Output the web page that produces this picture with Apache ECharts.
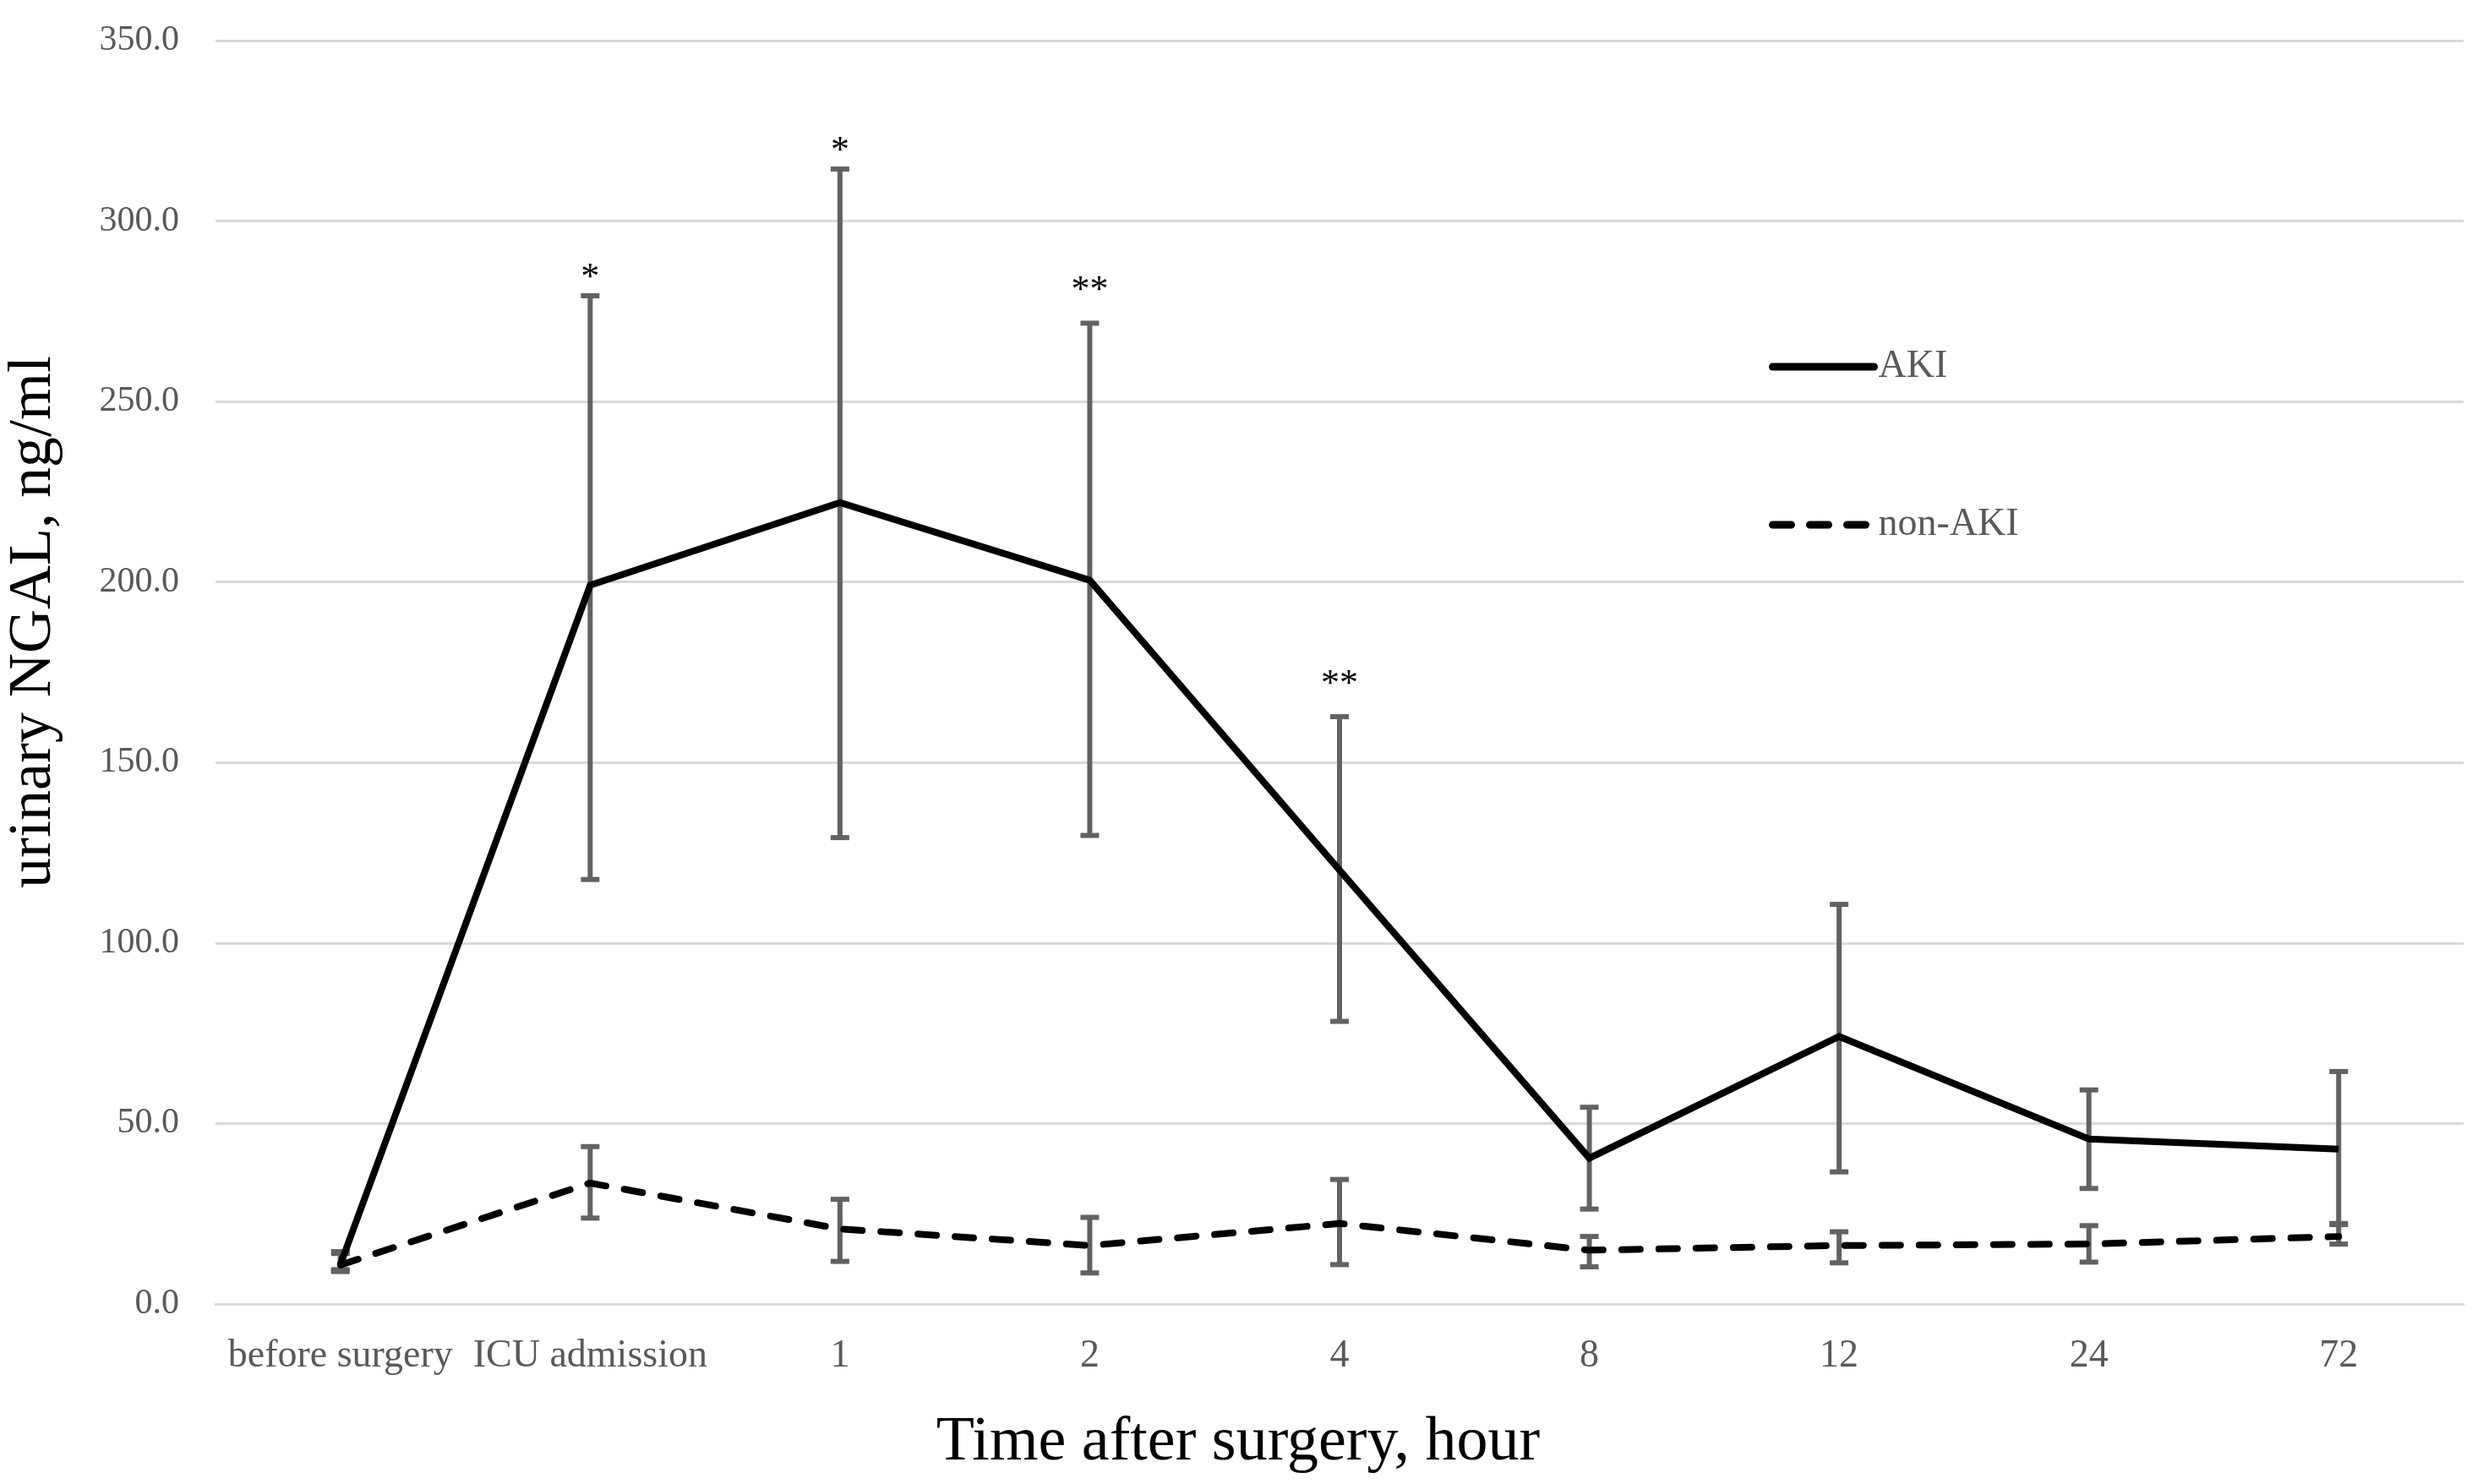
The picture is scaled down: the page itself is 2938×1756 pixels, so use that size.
<!DOCTYPE html>
<html>
<head>
<meta charset="utf-8">
<script src="https://cdn.jsdelivr.net/npm/echarts@6/dist/echarts.min.js"></script>
<style>
html,body{margin:0;padding:0;background:#fff;}
#chart{width:2938px;height:1756px;}
</style>
</head>
<body>
<div id="chart"></div>
<script>
const categories = ['before surgery', 'ICU admission', '1', '2', '4', '8', '12', '24', '72'];
const yTicks = [0, 50, 100, 150, 200, 250, 300, 350];
const akiMean  = [11.0, 199.1, 222.0, 200.5, 120.2, 40.4, 74.1, 45.7, 42.9];
const akiUpper = [14.5, 279.3, 314.4, 271.7, 162.7, 54.5, 110.7, 59.3, 64.4];
const akiLower = [9.5, 117.6, 129.2, 129.8, 78.3, 26.3, 36.6, 32.0, 22.3];
const nonAkiMean  = [10.8, 33.5, 20.8, 16.2, 22.3, 14.9, 16.2, 16.6, 18.7];
const nonAkiUpper = [14.0, 43.6, 29.0, 24.0, 34.5, 18.7, 20.0, 21.7, 22.0];
const nonAkiLower = [9.0, 23.8, 11.8, 8.6, 10.9, 10.3, 11.4, 11.6, 16.6];
const akiSignif = ['', '*', '*', '**', '**', '', '', '', ''];
const seriesNames = ['AKI', 'non-AKI'];
const xTitle = 'Time after surgery, hour';
const yTitle = 'urinary NGAL, ng/ml';

const SERIF = '"Liberation Serif", "DejaVu Serif", serif';
const errColor = '#626262';

function errData(lo, hi) {
  return categories.map((c, i) => [i, lo[i], hi[i]]);
}

function makeErrRender(signif) {
  return function (params, api) {
    const i = api.value(0);
    const top = api.coord([i, api.value(2)]);
    const bot = api.coord([i, api.value(1)]);
    const half = 11;
    const st = { stroke: errColor, lineWidth: 6 };
    const children = [
      { type: 'line', shape: { x1: top[0], y1: top[1], x2: bot[0], y2: bot[1] }, style: st },
      { type: 'line', shape: { x1: top[0] - half, y1: top[1], x2: top[0] + half, y2: top[1] }, style: st },
      { type: 'line', shape: { x1: bot[0] - half, y1: bot[1], x2: bot[0] + half, y2: bot[1] }, style: st }
    ];
    const s = signif ? signif[params.dataIndex] : '';
    if (s) {
      const fs = 44;
      const off = s.length > 1 ? 48 : 31;
      children.push({
        type: 'text',
        x: top[0], y: top[1] - off + 0.23 * fs,
        style: { text: s, align: 'center', verticalAlign: 'middle', font: fs + 'px ' + SERIF, fill: '#000' }
      });
    }
    return { type: 'group', children: children };
  };
}

const chart = echarts.init(document.getElementById('chart'));
chart.setOption({
  animation: false,
  backgroundColor: '#fff',
  grid: { left: 255, right: 23, top: 48, bottom: 213, containLabel: false },
  legend: {
    data: seriesNames,
    orient: 'vertical',
    left: 2088,
    top: 404,
    itemWidth: 120,
    itemHeight: 14,
    itemGap: 137,
    itemStyle: { opacity: 0 },
    lineStyle: { width: 9, cap: 'round' },
    textStyle: { fontFamily: SERIF, fontSize: 46, color: '#595959', lineHeight: 50 }
  },
  xAxis: {
    type: 'category',
    data: categories,
    boundaryGap: true,
    axisLine: { lineStyle: { color: '#d9d9d9', width: 3 } },
    axisTick: { show: false },
    axisLabel: { interval: 0, fontFamily: SERIF, fontSize: 46, color: '#595959', margin: 39 }
  },
  yAxis: {
    type: 'value',
    min: yTicks[0],
    max: yTicks[yTicks.length - 1],
    interval: yTicks[1] - yTicks[0],
    axisLine: { show: false },
    axisTick: { show: false },
    splitLine: { lineStyle: { color: '#d9d9d9', width: 3 } },
    axisLabel: { fontFamily: SERIF, fontSize: 42, color: '#595959', margin: 43, formatter: v => v.toFixed(1) }
  },
  graphic: [
    {
      type: 'text', x: 40, y: 736, rotation: Math.PI / 2,
      style: { text: yTitle, align: 'center', verticalAlign: 'middle', font: '72px ' + SERIF, fill: '#000' }
    },
    {
      type: 'text', x: 1465, y: 1708,
      style: { text: xTitle, align: 'center', verticalAlign: 'middle', font: '74px ' + SERIF, fill: '#000' }
    }
  ],
  series: [
    {
      type: 'custom', name: 'AKI-err', z: 1,
      renderItem: makeErrRender(akiSignif),
      encode: { x: 0, y: [1, 2] },
      data: errData(akiLower, akiUpper)
    },
    {
      type: 'custom', name: 'nonAKI-err', z: 1,
      renderItem: makeErrRender(null),
      encode: { x: 0, y: [1, 2] },
      data: errData(nonAkiLower, nonAkiUpper)
    },
    {
      name: seriesNames[0], type: 'line', z: 3,
      data: akiMean, symbol: 'none',
      lineStyle: { color: '#000', width: 8, join: 'miter' },
      itemStyle: { color: '#000' }
    },
    {
      name: seriesNames[1], type: 'line', z: 3,
      data: nonAkiMean, symbol: 'none',
      lineStyle: { color: '#000', width: 8, type: [22, 22], cap: 'round' },
      itemStyle: { color: '#000' }
    }
  ]
});
</script>
</body>
</html>
